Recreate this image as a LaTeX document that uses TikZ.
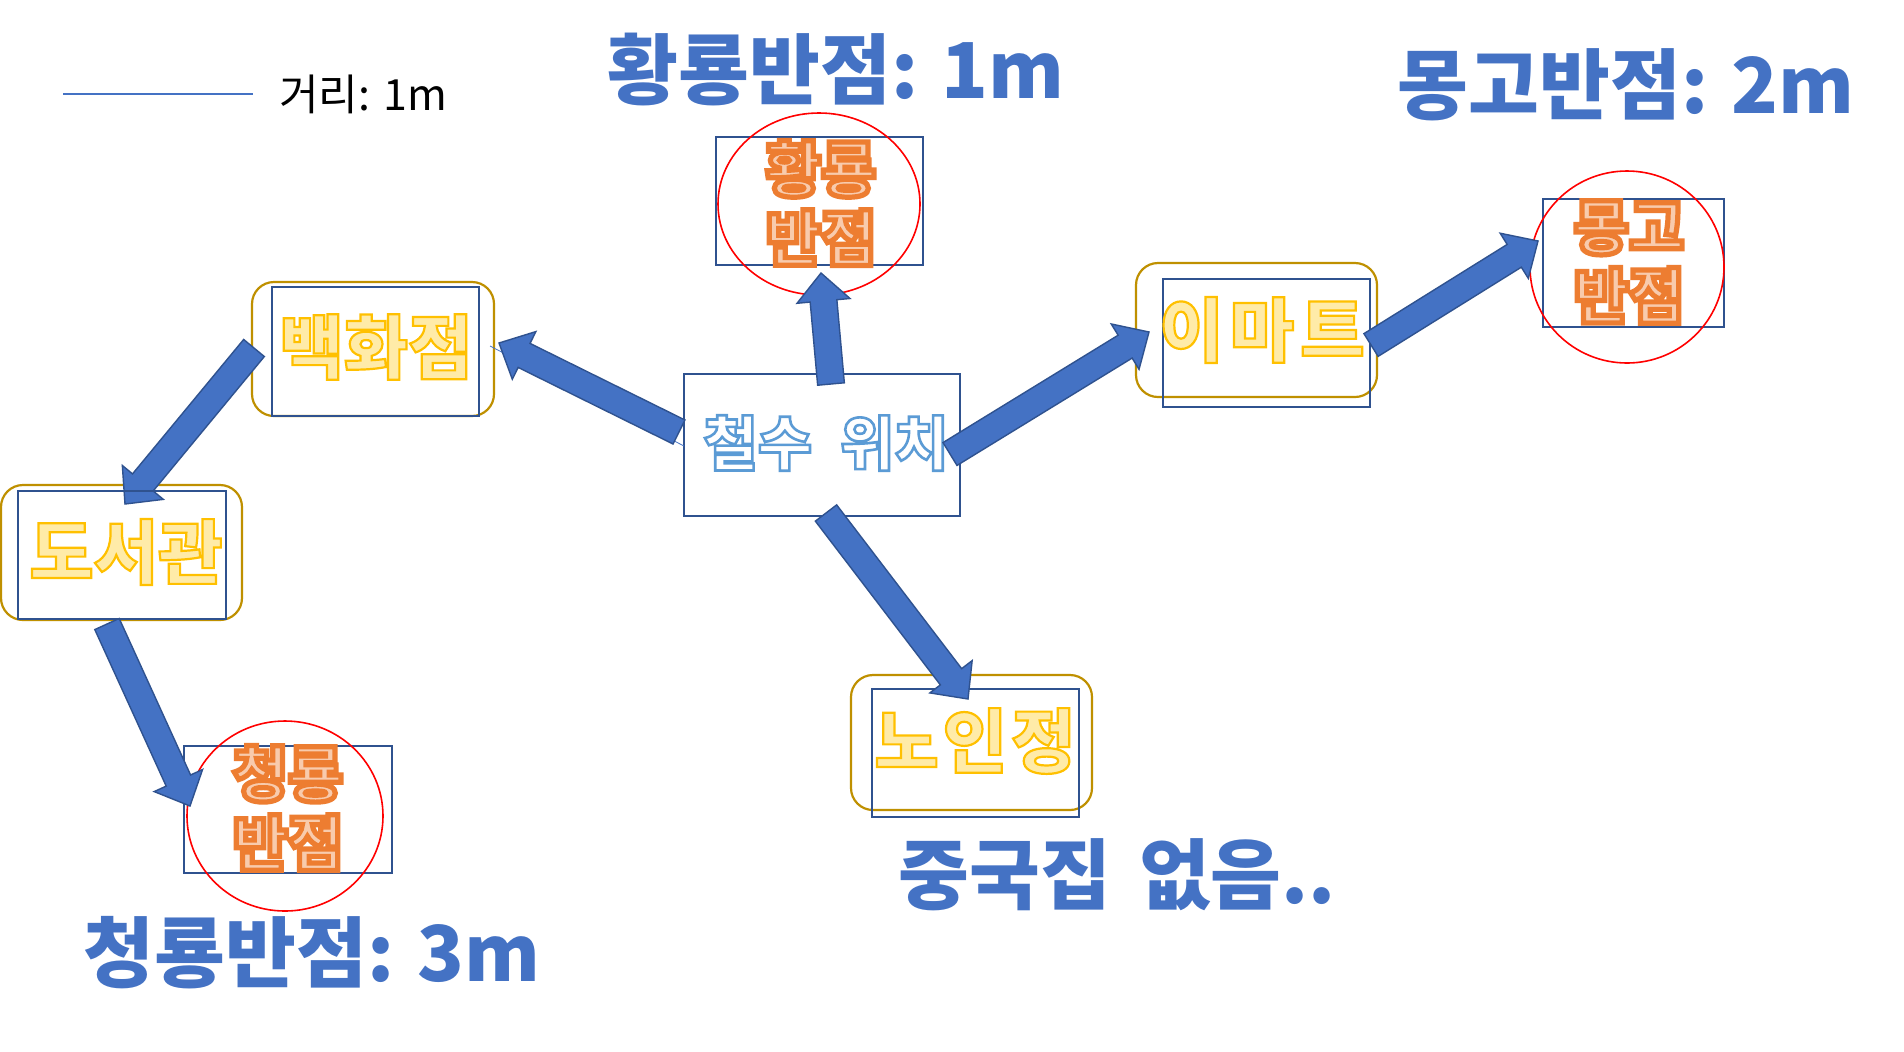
\documentclass[tikz,border=0pt]{standalone}
\usepackage{fontspec}
\usetikzlibrary{calc}
\newfontfamily\kr{Noto Sans CJK KR}
\definecolor{ablue}{HTML}{4472C4}
\definecolor{dblue}{HTML}{2F528F}
\definecolor{gold}{HTML}{BF9000}
\definecolor{yfill}{HTML}{FFEBA8}
\definecolor{ofill}{HTML}{F8CBAD}
\definecolor{ringred}{HTML}{FF0000}
% outlined text: fill colour, stroke ops, text
\newcommand{\olt}[3]{{\color{#1}\special{pdf:literal direct #2 2 Tr}#3\special{pdf:literal direct 0 Tr}}}
\newcommand{\ytx}[1]{\olt{yfill}{1 0.753 0 RG 1.1 w}{#1}}
\newcommand{\otx}[1]{\olt{ofill}{0.929 0.490 0.192 RG 2.6 w}{#1}}
\newcommand{\wtx}[1]{\olt{white}{0.357 0.608 0.835 RG 1.3 w}{#1}}
\newcommand{\blockarr}[5]{%
  \coordinate (tmpn) at ($(#2)!#5!(#1)$);
  \draw[blockarrow] ($(#1)!#3!90:(#2)$) -- ($(tmpn)!#3!90:(#2)$) -- ($(tmpn)!#4!90:(#2)$) -- (#2)
    -- ($(tmpn)!#4!-90:(#2)$) -- ($(tmpn)!#3!-90:(#2)$) -- ($(#1)!#3!-90:(#2)$) -- cycle;}
\tikzset{
  bluebox/.style={draw=dblue, line width=1.1pt},
  goldbox/.style={draw=gold, line width=1.1pt, rounded corners=11pt},
  ring/.style={draw=ringred, line width=0.8pt},
  blockarrow/.style={draw=dblue, fill=ablue, line width=0.7pt, line join=miter},
  title/.style={font=\kr\bfseries\fontsize{38.5}{40}\selectfont, text=ablue, inner sep=0},
  boxtext/.style={font=\kr\bfseries\fontsize{35}{38}\selectfont, inner sep=0},
  pairtext/.style={font=\kr\bfseries\fontsize{30}{34.5}\selectfont, inner sep=0, align=center},
}
\begin{document}
\begin{tikzpicture}[x=0.5pt,y=-0.5pt]
\useasboundingbox[fill=white] (0,0) rectangle (1904,1051);

% legend
\coordinate (l1) at (63,94);
\coordinate (l2) at (253,94);
\draw[ablue, line width=0.6pt] (l1) -- (l2);
\node[font=\kr\fontsize{21.5}{24}\selectfont, anchor=west, inner sep=0] (legend) at (279,94) {거리: 1m};

% titles
\node[title] (t1) at (836,70) {황룡반점: 1m};
\node[title] (t2) at (1626,85) {몽고반점: 2m};
\node[title] (t3) at (312,953) {청룡반점: 3m};
\node[title] (t4) at (1117,875) {중국집\hspace{14pt}없음..};

% gold rounded frames
\draw[goldbox] (252,282) rectangle (494,416);
\draw[goldbox] (1,485) rectangle (242,620);
\draw[goldbox] (1136,263) rectangle (1377,397);
\draw[goldbox] (851,675) rectangle (1092,810);

% blue boxes
\draw[bluebox] (272,287) rectangle (479,416);
\draw[bluebox] (1163,279) rectangle (1370,407);
\draw[bluebox] (872,689) rectangle (1079,817);
\draw[bluebox] (684,374) rectangle (960,516);
\draw[bluebox] (716,137) rectangle (923,265);
\draw[bluebox] (1543,199) rectangle (1724,327);
\draw[bluebox] (184,746) rectangle (392,873);

% red rings
\draw[ring] (819,204) ellipse [x radius=50.5pt, y radius=45.5pt];
\draw[ring] (1627,267) ellipse [x radius=48.5pt, y radius=48pt];
\draw[ring] (285,816) ellipse [x radius=49pt, y radius=47.5pt];

% texts
\node[boxtext] (bhj) at (376,347) {\ytx{백화점}};
\node[boxtext] (dsg) at (126,552) {\ytx{도서관}};
\node[boxtext] (emt) at (1262,330) {\ytx{이}\hspace{3pt}\ytx{마}\hspace{3pt}\ytx{트}};
\node[boxtext] (nij) at (975,741) {\ytx{노}\hspace{2pt}\ytx{인}\hspace{2pt}\ytx{정}};
\node[font=\kr\bfseries\fontsize{29.5}{32}\selectfont, inner sep=0] (me) at (826,443) {\wtx{철수}\hspace{14pt}\wtx{위치}};
\node[pairtext] (hr) at (821,203) {\otx{황룡}\\\otx{반점}};
\node[pairtext] (mg) at (1629,262) {\otx{몽고}\\\otx{반점}};
\node[pairtext] (cr) at (288,808) {\otx{청룡}\\\otx{반점}};

% thin connector behind arrow
\coordinate (c1) at (490,346);
\coordinate (c2) at (684,446);
\draw[ablue, line width=0.4pt] (c1) -- (c2);

% block arrows
\coordinate (a1s) at (679,432); \coordinate (a1e) at (499,343);
\coordinate (a2s) at (831,384); \coordinate (a2e) at (821,273);
\coordinate (a3s) at (950,454); \coordinate (a3e) at (1149,332);
\coordinate (a4s) at (826,513); \coordinate (a4e) at (968,699);
\coordinate (a5s) at (1371,345); \coordinate (a5e) at (1538,241);
\coordinate (a6s) at (254,348); \coordinate (a6e) at (125,504);
\coordinate (a7s) at (107,624); \coordinate (a7e) at (190,806);
\blockarr{a1s}{a1e}{6.7pt}{13.3pt}{14pt}
\blockarr{a2s}{a2e}{6.7pt}{13.3pt}{14pt}
\blockarr{a3s}{a3e}{6.7pt}{13.3pt}{14pt}
\blockarr{a4s}{a4e}{6.7pt}{13.3pt}{14pt}
\blockarr{a5s}{a5e}{6.7pt}{13.3pt}{14pt}
\blockarr{a6s}{a6e}{6.7pt}{13.3pt}{14pt}
\blockarr{a7s}{a7e}{6.7pt}{13.3pt}{14pt}

% library box line drawn over its arrow
\draw[bluebox] (18,491) rectangle (226,619);
\end{tikzpicture}
\end{document}
